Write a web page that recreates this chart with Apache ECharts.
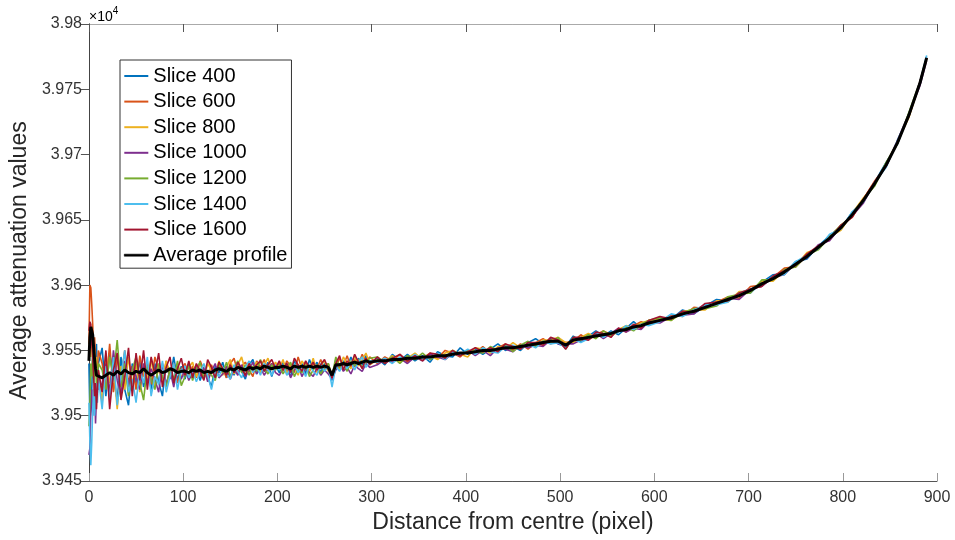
<!DOCTYPE html>
<html>
<head>
<meta charset="utf-8">
<script src="https://cdn.jsdelivr.net/npm/echarts@6/dist/echarts.min.js"></script>
<style>
html, body { margin: 0; padding: 0; background: #fff; }
#chart { width: 955px; height: 540px; }
</style>
</head>
<body>
<div id="chart"></div>
<script>
// Distance from the centre (pixel) at which each profile is sampled
const distance = [
  0, 1, 2, 3, 4, 5, 6, 7, 8, 9, 10,
  14, 18, 22, 26, 30, 34, 38, 42, 46, 50, 54, 58, 62, 66, 70, 74, 78, 82, 86, 90, 94, 98,
  102, 106, 110, 114, 118, 122, 126, 130, 134, 138, 142, 146, 150, 154, 158, 162, 166, 170, 174, 178, 182, 186, 190, 194, 198,
  202, 206, 210, 214, 218, 222, 226, 230, 234, 238, 242, 246, 250, 254, 258, 262, 266, 270, 274, 278, 282, 286, 290, 294, 298,
  306, 314, 322, 330, 338, 346, 354, 362, 370, 378, 386, 394, 402, 410, 418, 426, 434, 442, 450, 458, 466, 474, 482, 490, 498,
  506, 514, 522, 530, 538, 546, 554, 562, 570, 578, 586, 594,
  606, 618, 630, 642, 654, 666, 678, 690, 702, 714, 726, 738, 750, 762, 774, 786, 798, 810, 822, 834, 846, 858, 870, 882, 889
];

// Average attenuation values of each slice
const slice400 = [
  39540,39500,39505,39520,39545,39555,39530,39548,39555,39520,39540,
  39552,39515,39548,39530,39512,39545,39520,39508,39540,39525,39542,39522,39538,39520,39540,39526,39515,39541,39528,39545,39527,39538,
  39528,39540,39531,39538,39527,39536,39530,39522,39538,39533,39541,39529,39537,39531,39540,39534,39528,39539,39543,39532,39538,39534,39541,39530,39539,
  39533,39541,39535,39530,39542,39534,39540,39532,39543,39536,39541,39533,39540,39535,39527,39543,39536,39542,39537,39545,39538,39544,39539,39546,39540,
  39544,39539,39547,39542,39547,39542,39546,39541,39549,39546,39545,39552,39547,39551,39547,39551,39555,39550,39553,39550,39556,39559,39555,39559,39555,39553,39561,39557,39561,39565,39561,39565,39562,39567,39572,39567,39572,
  39575,39574,39581,39578,39584,39589,39588,39594,39594,39602,39608,39609,39618,39620,39630,39638,39643,39656,39664,39679,39694,39708,39731,39754,39775
];
const slice600 = [
  39555,39600,39598,39585,39570,39550,39560,39545,39540,39535,39550,
  39540,39522,39555,39518,39545,39528,39550,39525,39538,39520,39546,39530,39540,39524,39545,39535,39526,39542,39530,39540,39525,39536,
  39540,39530,39538,39529,39542,39535,39528,39539,39531,39541,39536,39529,39540,39544,39533,39538,39541,39535,39530,39542,39537,39543,39534,39540,39536,
  39540,39534,39542,39538,39533,39545,39536,39541,39534,39540,39536,39543,39535,39540,39530,39537,39544,39538,39546,39537,39543,39539,39547,39541,39545,
  39540,39545,39542,39547,39541,39546,39544,39548,39544,39550,39548,39545,39550,39548,39553,39548,39552,39555,39550,39555,39551,39556,39559,39555,39558,39556,39557,39562,39558,39562,39565,39562,39567,39564,39569,39572,39570,
  39572,39577,39576,39583,39582,39587,39591,39590,39599,39600,39606,39613,39614,39623,39628,39638,39645,39652,39666,39680,39691,39710,39729,39756,39774
];
const slice800 = [
  39550,39560,39545,39565,39555,39540,39550,39530,39545,39520,39535,
  39510,39548,39525,39540,39505,39538,39520,39545,39524,39540,39518,39535,39528,39544,39522,39538,39527,39542,39532,39526,39540,39530,
  39532,39537,39541,39530,39536,39528,39540,39535,39530,39542,39531,39537,39543,39532,39539,39545,39534,39540,39536,39541,39533,39539,39544,39535,39541,
  39536,39543,39532,39540,39537,39531,39542,39538,39534,39544,39533,39539,39542,39534,39532,39541,39535,39545,39540,39536,39546,39538,39543,39548,39539,
  39543,39541,39546,39541,39544,39548,39543,39546,39543,39548,39550,39547,39545,39552,39551,39548,39553,39551,39556,39552,39555,39553,39558,39558,39560,39556,39556,39560,39563,39560,39563,39561,39566,39569,39567,39571,39573,
  39574,39573,39580,39581,39581,39588,39587,39595,39595,39603,39603,39611,39615,39625,39628,39637,39642,39655,39667,39677,39693,39710,39728,39755,39773
];
const slice1000 = [
  39470,39475,39505,39520,39500,39510,39525,39494,39515,39535,39520,
  39525,39540,39518,39550,39527,39515,39542,39522,39538,39530,39520,39540,39525,39536,39528,39518,39540,39524,39535,39522,39538,39528,
  39536,39527,39533,39539,39530,39537,39526,39534,39540,39529,39532,39538,39528,39536,39531,39539,39530,39535,39541,39532,39537,39531,39536,39540,39533,
  39531,39536,39540,39529,39535,39539,39530,39536,39533,39530,39537,39531,39535,39532,39528,39535,39540,39534,39537,39532,39539,39536,39534,39540,39537,
  39539,39543,39541,39544,39540,39545,39542,39547,39545,39543,39548,39546,39550,39546,39550,39546,39552,39551,39549,39554,39552,39554,39553,39558,39555,39555,39555,39558,39558,39563,39559,39563,39567,39564,39567,39566,39572,
  39571,39576,39577,39578,39585,39585,39590,39589,39597,39599,39606,39608,39617,39621,39631,39634,39645,39653,39663,39679,39691,39711,39731,39753,39772
];
const slice1200 = [
  39492,39510,39540,39530,39550,39525,39535,39545,39520,39530,39540,
  39535,39520,39545,39530,39558,39522,39540,39515,39535,39545,39525,39512,39538,39528,39520,39540,39530,39522,39536,39528,39542,39523,
  39530,39538,39527,39536,39541,39529,39535,39531,39527,39539,39533,39541,39530,39537,39542,39533,39539,39531,39538,39534,39543,39536,39532,39539,39535,
  39539,39532,39537,39541,39530,39536,39533,39539,39530,39535,39539,39532,39537,39540,39530,39545,39537,39541,39534,39542,39538,39543,39537,39541,39544,
  39545,39541,39545,39540,39546,39543,39548,39543,39547,39545,39550,39547,39550,39549,39548,39553,39550,39554,39549,39554,39557,39553,39557,39556,39560,39551,39560,39558,39562,39559,39565,39561,39565,39568,39565,39570,39573,
  39575,39573,39579,39582,39582,39584,39591,39593,39594,39604,39604,39612,39614,39623,39627,39637,39646,39653,39666,39676,39694,39708,39732,39756,39774
];
const slice1400 = [
  39510,39480,39462,39480,39505,39520,39500,39515,39525,39510,39530,
  39505,39538,39512,39545,39508,39530,39550,39518,39528,39510,39535,39525,39545,39515,39530,39524,39542,39518,39530,39540,39520,39535,
  39538,39529,39535,39526,39533,39540,39531,39520,39534,39530,39537,39532,39528,39539,39534,39529,39537,39542,39533,39538,39531,39540,39535,39531,39538,
  39535,39539,39531,39536,39540,39533,39537,39530,39539,39534,39531,39540,39534,39538,39522,39538,39534,39540,39536,39541,39535,39541,39545,39537,39542,
  39541,39544,39540,39545,39543,39547,39543,39544,39548,39543,39549,39547,39551,39547,39552,39549,39548,39553,39554,39551,39555,39552,39557,39555,39556,39552,39559,39556,39559,39564,39560,39564,39564,39569,39566,39570,39569,
  39572,39578,39576,39581,39585,39585,39587,39594,39597,39600,39607,39608,39618,39623,39628,39639,39643,39656,39664,39679,39690,39711,39729,39756,39776
];
const slice1600 = [
  39565,39572,39570,39555,39545,39530,39515,39525,39505,39520,39535,
  39518,39550,39505,39535,39548,39512,39530,39552,39515,39548,39527,39550,39520,39545,39532,39548,39522,39537,39545,39525,39536,39544,
  39531,39542,39529,39540,39534,39527,39543,39537,39529,39541,39536,39531,39539,39533,39541,39536,39531,39540,39535,39539,39542,39534,39539,39543,39536,
  39542,39535,39540,39533,39544,39539,39534,39542,39537,39541,39535,39539,39543,39536,39529,39540,39546,39535,39542,39538,39547,39541,39536,39544,39539,
  39545,39540,39544,39547,39542,39546,39542,39548,39547,39544,39550,39546,39549,39552,39549,39552,39549,39555,39553,39551,39556,39556,39554,39560,39558,39551,39560,39560,39558,39564,39563,39560,39567,39565,39570,39567,39573,
  39576,39574,39580,39579,39586,39587,39588,39594,39597,39599,39607,39611,39615,39624,39630,39635,39646,39652,39666,39679,39691,39710,39729,39756,39774
];
const averageProfile = [
  39542,39560,39568,39567,39562,39552,39543,39536,39531,39530,39530,
  39529,39531,39533,39531,39534,39532,39535,39533,39532,39534,39533,39536,39533,39531,39533,39535,39533,39534,39536,39535,39533,39534,
  39534,39533,39535,39534,39535,39533,39534,39533,39535,39536,39535,39534,39536,39535,39537,39536,39535,39537,39536,39537,39536,39538,39537,39536,39537,
  39537,39538,39537,39536,39538,39537,39538,39537,39538,39537,39538,39537,39538,39537,39531,39539,39539,39540,39539,39540,39541,39540,39541,39542,39541,
  39542,39542,39543,39543,39544,39544,39545,39545,39546,39546,39547,39548,39548,39549,39550,39550,39551,39552,39552,39553,39554,39555,39556,39557,39557,39554,39558,39559,39560,39561,39562,39563,39565,39566,39568,39569,39571,
  39573,39575,39578,39580,39583,39586,39589,39592,39596,39601,39605,39610,39616,39622,39629,39636,39644,39654,39665,39678,39692,39709,39730,39755,39774
];

// Y tick labels are shown in units of 10^4
const yTickScale = 10000;

const FONT = '"Liberation Sans", Arial, Helvetica, sans-serif';

function pairs(values) {
  const out = [];
  for (let i = 0; i < distance.length && i < values.length; i++) {
    out.push([distance[i], values[i]]);
  }
  return out;
}

const sliceSeries = [
  { name: 'Slice 400',  values: slice400,  color: '#0072BD' },
  { name: 'Slice 600',  values: slice600,  color: '#D95319' },
  { name: 'Slice 800',  values: slice800,  color: '#EDB120' },
  { name: 'Slice 1000', values: slice1000, color: '#7E2F8E' },
  { name: 'Slice 1200', values: slice1200, color: '#77AC30' },
  { name: 'Slice 1400', values: slice1400, color: '#4DBEEE' },
  { name: 'Slice 1600', values: slice1600, color: '#A2142F' }
];

const series = sliceSeries.map(s => ({
  name: s.name,
  type: 'line',
  data: pairs(s.values),
  symbol: 'none',
  showSymbol: false,
  color: s.color,
  lineStyle: { width: 1.6, color: s.color },
  z: 2
}));
series.push({
  name: 'Average profile',
  type: 'line',
  data: pairs(averageProfile),
  symbol: 'none',
  showSymbol: false,
  color: '#000',
  lineStyle: { width: 3, color: '#000' },
  z: 3
});

// Legend entries drawn as short line samples
const legendData = sliceSeries.map(s => ({
  name: s.name, icon: 'rect', itemStyle: { color: s.color, borderWidth: 0 }
}));
legendData.push({
  name: 'Average profile', icon: 'rect',
  itemStyle: { color: '#000', borderColor: '#000', borderWidth: 0.6 }
});

function yLabel(v) {
  return (v / yTickScale).toFixed(3).replace(/0+$/, '').replace(/\.$/, '');
}

const chart = echarts.init(document.getElementById('chart'), null, { renderer: 'canvas' });
chart.setOption({
  animation: false,
  backgroundColor: '#fff',
  grid: { left: 88, right: 18, top: 24, bottom: 59, containLabel: false },
  xAxis: [
    {
      type: 'value', min: 0, max: 900, interval: 100, position: 'bottom',
      name: 'Distance from centre (pixel)', nameLocation: 'middle', nameGap: 28,
      nameTextStyle: { fontFamily: FONT, fontSize: 23, color: '#262626' },
      axisLine: { show: true, lineStyle: { color: '#555', width: 1 } },
      axisTick: { show: true, inside: true, length: 8, lineStyle: { color: '#999' } },
      axisLabel: { fontFamily: FONT, fontSize: 16, color: '#333', margin: 9 },
      splitLine: { show: false }
    },
    {
      type: 'value', min: 0, max: 900, interval: 100, position: 'top',
      axisLine: { show: true, lineStyle: { color: '#aaa', width: 1 } },
      axisTick: { show: true, inside: true, length: 8, lineStyle: { color: '#555' } },
      axisLabel: { show: false },
      splitLine: { show: false }
    }
  ],
  yAxis: [
    {
      type: 'value', min: 39450, max: 39800, interval: 50, position: 'left',
      name: 'Average attenuation values', nameLocation: 'middle', nameGap: 46,
      nameTextStyle: { fontFamily: FONT, fontSize: 23, color: '#262626', padding: [0, 16, 0, 0] },
      axisLine: { show: true, lineStyle: { color: '#555', width: 1 } },
      axisTick: { show: true, inside: false, length: 8, lineStyle: { color: '#555' } },
      axisLabel: { fontFamily: FONT, fontSize: 16, color: '#333', margin: 7, formatter: yLabel },
      splitLine: { show: false }
    },
    {
      type: 'value', min: 39450, max: 39800, interval: 50, position: 'right',
      axisLine: { show: true, lineStyle: { color: '#444', width: 1 } },
      axisTick: { show: true, inside: true, length: 8, lineStyle: { color: '#555' } },
      axisLabel: { show: false },
      splitLine: { show: false }
    }
  ],
  legend: {
    orient: 'vertical',
    left: 120, top: 60,
    padding: [5, 4, 2, 4],
    itemWidth: 24, itemHeight: 2, itemGap: 3.6, itemTextGap: 4,
    backgroundColor: '#fff',
    borderColor: '#333', borderWidth: 1, borderRadius: 0,
    textStyle: { fontFamily: FONT, fontSize: 20, lineHeight: 22, color: '#000' },
    data: legendData
  },
  graphic: [
    {
      type: 'text', left: 89, top: 6,
      style: {
        text: '{a|×10}{b|4}',
        rich: {
          a: { fontFamily: FONT, fontSize: 14, color: '#333', verticalAlign: 'bottom' },
          b: { fontFamily: FONT, fontSize: 10, color: '#333', verticalAlign: 'top', padding: [0, 0, 8, 0] }
        }
      }
    }
  ],
  series: series
});
</script>
</body>
</html>
